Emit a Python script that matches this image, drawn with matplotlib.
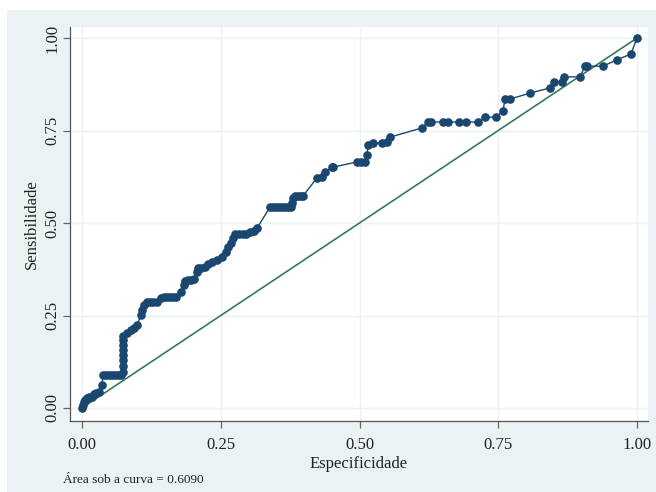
import matplotlib
matplotlib.use("Agg")
import matplotlib.pyplot as plt
from matplotlib.patches import Rectangle

# ROC points
x_vals = [0.0, 0.0018, 0.0036, 0.0054, 0.009, 0.0126, 0.018, 0.0216, 0.0252, 0.0306,
          0.036, 0.0378, 0.0432, 0.0486, 0.054, 0.0595, 0.0649, 0.0703,
          0.0739, 0.0739, 0.0739, 0.0739, 0.0739, 0.0739, 0.0739, 0.0739,
          0.0811, 0.0883, 0.0937, 0.0991, 0.1063, 0.1081, 0.1117,
          0.1171, 0.1225, 0.1279, 0.1351, 0.1423, 0.1477, 0.1532, 0.1586, 0.164, 0.1694,
          0.1784, 0.1838, 0.1856, 0.191, 0.1964, 0.2018, 0.2072, 0.209, 0.2144, 0.2216,
          0.227, 0.2342, 0.2432, 0.2523, 0.2595, 0.2631, 0.2685, 0.2721, 0.2757,
          0.2829, 0.2901, 0.2955, 0.3027, 0.3099, 0.3153,
          0.3387, 0.3441, 0.3495, 0.3550, 0.3604, 0.3658, 0.3712, 0.3766,
          0.3784, 0.3802, 0.3838, 0.3892, 0.3946, 0.3982,
          0.4234, 0.4324, 0.4378, 0.4505, 0.4523,
          0.4955, 0.5027, 0.5099, 0.5135, 0.5153, 0.5243, 0.5405, 0.5495, 0.5550,
          0.6126, 0.6234, 0.6288, 0.6505, 0.6595, 0.6793, 0.6919, 0.7135,
          0.7261, 0.7459, 0.7586, 0.7622, 0.7712, 0.8072, 0.8432, 0.8505,
          0.8649, 0.8685, 0.8973, 0.9063, 0.9099, 0.9387, 0.9640, 0.9892, 1.0]
y_vals = [0.0, 0.008, 0.016, 0.022, 0.027, 0.030, 0.030, 0.038, 0.041, 0.043,
          0.062, 0.089, 0.089, 0.089, 0.089, 0.089, 0.089, 0.089,
          0.097, 0.114, 0.130, 0.143, 0.157, 0.170, 0.184, 0.195,
          0.203, 0.211, 0.216, 0.224, 0.251, 0.265, 0.278,
          0.286, 0.286, 0.286, 0.286, 0.297, 0.300, 0.300, 0.300, 0.300, 0.300,
          0.314, 0.332, 0.343, 0.346, 0.346, 0.349, 0.368, 0.378, 0.378, 0.381,
          0.389, 0.395, 0.400, 0.408, 0.422, 0.435, 0.446, 0.459, 0.470,
          0.470, 0.470, 0.470, 0.476, 0.478, 0.486,
          0.543, 0.543, 0.543, 0.543, 0.543, 0.543, 0.543, 0.543,
          0.554, 0.568, 0.573, 0.573, 0.573, 0.573,
          0.622, 0.624, 0.638, 0.651, 0.651,
          0.665, 0.665, 0.665, 0.684, 0.711, 0.716, 0.716, 0.719, 0.732,
          0.757, 0.773, 0.773, 0.773, 0.773, 0.773, 0.773, 0.773,
          0.786, 0.786, 0.803, 0.835, 0.835, 0.851, 0.865, 0.881,
          0.881, 0.895, 0.895, 0.924, 0.924, 0.924, 0.941, 0.957, 1.0]

ref_x = [0, 1]
ref_y = [0, 1]
ticks = [0.0, 0.25, 0.5, 0.75, 1.0]
tick_labels = ["0.00", "0.25", "0.50", "0.75", "1.00"]
x_title = "Especificidade"
y_title = "Sensibilidade"
note = "Área sob a curva = 0.6090"

W, H = 656, 492
fig = plt.figure(figsize=(W / 100, H / 100), dpi=100, facecolor="white")
bg = Rectangle((7 / W, 0), 1 - 7 / W, 1 - 10 / H, transform=fig.transFigure,
               facecolor="#eaf2f3", edgecolor="none", zorder=-10)
fig.add_artist(bg)

ax = fig.add_axes([70 / W, 1 - 421 / H, (648 - 70) / W, (421 - 27) / H])
ax.set_zorder(1)
ax.set_facecolor("white")
ax.set_xlim((70 - 82) / 555, (648 - 82) / 555)
ax.set_ylim((408 - 421) / 370, (408 - 27) / 370)

navy = "#1a476f"
ax.plot(ref_x, ref_y, color="#367a60", lw=1.2, zorder=2)
ax.plot(x_vals, y_vals, color=navy, lw=1.0, marker="o", markersize=5.2,
        markerfacecolor=navy, markeredgecolor=navy, zorder=3)

serif = ["Liberation Serif", "DejaVu Serif"]
ax.set_xticks(ticks)
ax.set_xticklabels(tick_labels, family=serif, fontsize=12)
ax.set_yticks(ticks)
ax.set_yticklabels(tick_labels, family=serif, fontsize=12, rotation=90, va="center")
ax.tick_params(axis="both", direction="out", length=5, width=0.9, color="#666666",
               labelcolor="#222222")
ax.tick_params(axis="x", pad=6.5)
ax.tick_params(axis="y", pad=2)
ax.grid(True, color="#eaf2f3", lw=1.0, zorder=0)
ax.set_axisbelow(True)
for s in ["top", "right"]:
    ax.spines[s].set_visible(False)
for s in ["left", "bottom"]:
    ax.spines[s].set_color("#555555")
    ax.spines[s].set_linewidth(0.9)

ax.set_xlabel(x_title, family=serif, fontsize=12, color="#222222", labelpad=2)
ax.set_ylabel(y_title, family=serif, fontsize=12, color="#222222", labelpad=3)

fig.text(63 / W, 1 - 480 / H, note, family=serif, fontsize=9.5, color="#222222",
         ha="left", va="center")

fig.savefig("out.png", dpi=100, facecolor=fig.get_facecolor())
